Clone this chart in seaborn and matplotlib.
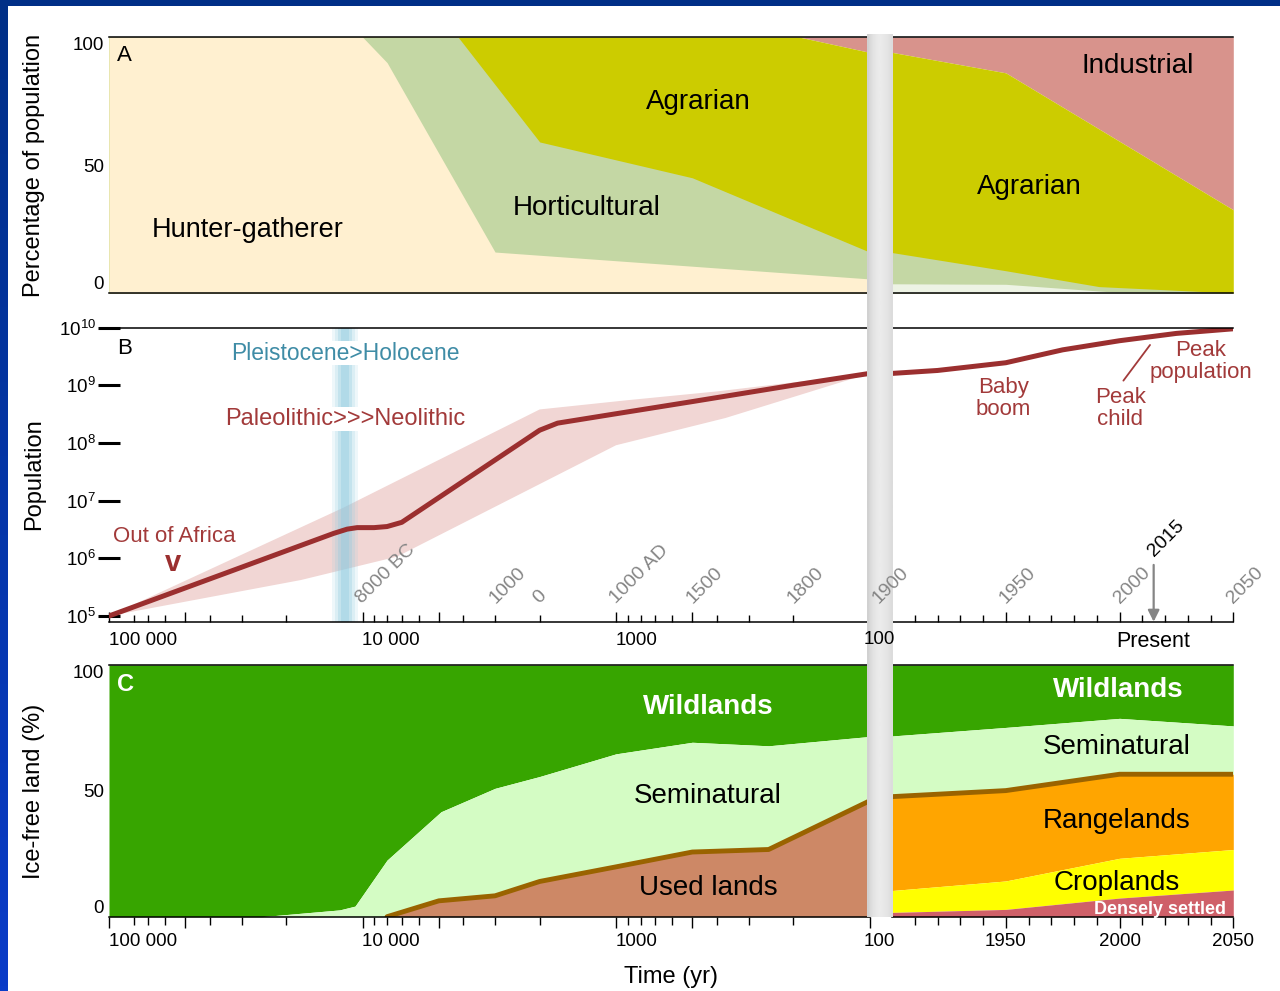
import numpy as np
import matplotlib
matplotlib.use("Agg")
import matplotlib.pyplot as plt
import matplotlib.transforms as mtransforms
from matplotlib.ticker import NullLocator, NullFormatter
from matplotlib.patches import Rectangle
import seaborn as sns

W, H = 1280, 991

# ---------------- Panel A: share of population by subsistence type ----------------
# cumulative upper edges (%) ; left half in years before present, right half in calendar years
hg_bp = [100000, 10000, 8000, 3000, 100]
hg_top = [100, 100, 90, 16, 5.5]
hort_bp = [100000, 4200, 2000, 500, 100]
hort_top = [100, 100, 59, 45, 16]
agr_bp = [100000, 190, 100]
agr_top = [100, 100, 94]

hg_yr = [1900, 1950, 1997, 2050]
hg_top_r = [3.6, 3.4, 0.4, 0]
hort_yr = [1900, 1950, 1991, 2050]
hort_top_r = [15.8, 8.7, 2.5, 0]
agr_yr = [1900, 1950, 2050]
agr_top_r = [94, 86, 32.5]

# ---------------- Panel B: world population ----------------
pop_bp = [100000, 13000, 11500, 10500, 9000, 8000, 7000, 2000, 1700, 1000, 500, 200, 100]
pop = [1.0e5, 2.7e6, 3.2e6, 3.4e6, 3.4e6, 3.55e6, 4.2e6, 1.66e8, 2.2e8, 3.2e8, 5.2e8, 1.0e9, 1.6e9]
pop_yr = [1900, 1920, 1950, 1975, 2000, 2025, 2050]
pop_r = [1.6e9, 1.8e9, 2.45e9, 4.1e9, 5.9e9, 7.9e9, 9.5e9]

band_hi_bp = [100000, 12000, 2000, 900, 400, 100]
band_hi = [1.0e5, 7.4e6, 3.8e8, 5.5e8, 7.8e8, 1.6e9]
band_lo_bp = [100000, 17500, 7300, 1000, 370, 100]
band_lo = [1.0e5, 4.2e5, 1.07e6, 9.1e7, 2.7e8, 1.6e9]

holocene_bp = 11700

cal_bp = [10000, 3000, 2000, 1000, 500, 200]
cal_bp_labels = ["8000 BC", "1000", "0", "1000 AD", "1500", "1800"]
cal_yr = [1950, 2000, 2050]
cal_yr_labels = ["1950", "2000", "2050"]
present_yr = 2015

# ---------------- Panel C: ice-free land use (cumulative upper edges, %) ----------------
semi_bp = [100000, 25000, 12300, 10700, 8000, 4900, 3000, 2000, 1000, 500, 250, 100]
semi_top = [0, 0, 2.7, 4.2, 22.5, 41.7, 51, 55.7, 64.7, 69.3, 67.9, 71.6]
used_bp = [8000, 5000, 3000, 2000, 1000, 500, 250, 100]
used_top = [0, 6.3, 8.3, 14, 19.8, 25.7, 26.7, 46]

years_c = [1900, 1950, 2000, 2050]
dense_top = [1.7, 2.9, 7.4, 10.6]
crop_top = [10.4, 14.2, 23.2, 26.7]
range_top = [47.7, 50.1, 56.6, 56.6]
semi_top_r = [71.8, 75.2, 78.8, 75.8]

# shared time axis ticks
bp_major = [1e5, 5e4, 1e4, 5e3, 1e3, 500, 100]
bp_major_labels = ["100 000", "", "10 000", "", "1000", "", ""]
bp_minor = [80000, 70000, 60000, 40000, 30000, 20000, 9000, 8000, 7000, 6000,
            4000, 3000, 2000, 900, 800, 700, 600, 400, 300, 200]
yr_major = [1950, 2000, 2050]
yr_minor = [y for y in range(1910, 2050, 10) if y not in yr_major]

# colours
C_HG, C_HG_R, C_HORT, C_AGR, C_IND = "#fff0d0", "#edf3e4", "#c4d7a4", "#cccc00", "#d8938c"
C_POP, C_BAND, C_RED, C_TEAL, C_STRIPE = "#9b2f2f", "#f1d6d4", "#a23a3a", "#3f8ca6", "#8fcbe0"
C_WILD, C_SEMI, C_USED, C_BROWN = "#37a500", "#d4fcc4", "#cd8866", "#9a6300"
C_RANGE, C_CROP, C_DENSE = "#ffa500", "#ffff00", "#cf6069"
C_CAL = "#858585"

FS_TICK, FS_LBL, FS_REG, FS_ANN, FS_CAL = 13.5, 17, 20, 16, 14

sns.set_theme(style="white")
plt.rcParams["font.family"] = ["Liberation Sans", "DejaVu Sans"]
plt.rcParams.update({
    "text.color": "black",
    "mathtext.fontset": "custom",
    "mathtext.rm": "Liberation Sans",
    "mathtext.it": "Liberation Sans:italic",
    "mathtext.bf": "Liberation Sans:bold",
})

fig = plt.figure(figsize=(W / 100, H / 100), dpi=100, facecolor="white")


def frac_rect(x0, y0, x1, y1):
    return [x0 / W, 1 - y1 / H, (x1 - x0) / W, (y1 - y0) / H]


def fxy(x, y):
    return x / W, 1 - y / H


LEFT = (109, 869.5)
RIGHT = (892, 1233.3)
ROWS = [(37, 293), (327.5, 621.7), (665, 916.7)]


def make_pair(y0, y1):
    axl = fig.add_axes(frac_rect(LEFT[0], y0, LEFT[1], y1))
    axr = fig.add_axes(frac_rect(RIGHT[0], y0, RIGHT[1], y1))
    axl.set_xscale("log")
    for ax in (axl, axr):
        ax.set_facecolor("white")
        ax.grid(False)
        for s in ("left", "right"):
            ax.spines[s].set_visible(False)
        for s in ("top", "bottom"):
            ax.spines[s].set_visible(True)
            ax.spines[s].set_color("black")
            ax.spines[s].set_linewidth(1.1)
            ax.spines[s].set_zorder(5)
    return axl, axr


def time_ticks(axl, axr, direction, major_len, minor_len, pad, right_labels):
    axl.set_xticks(bp_major, bp_major_labels)
    axl.set_xticks(bp_minor, minor=True)
    axl.xaxis.set_minor_formatter(NullFormatter())
    for lab in axl.get_xticklabels():
        lab.set_ha("left")
    axr.set_xticks(yr_major, right_labels)
    axr.set_xticks(yr_minor, minor=True)
    for ax in (axl, axr):
        ax.tick_params(axis="x", which="both", bottom=True, top=False, direction=direction,
                       color="black", width=1.0, labelsize=FS_TICK, labelcolor="black", pad=pad)
        ax.tick_params(axis="x", which="major", length=major_len)
        ax.tick_params(axis="x", which="minor", length=minor_len)


# ================= Panel A =================
axA, axAr = make_pair(*ROWS[0])
axA.fill_between(agr_bp, agr_top, 100, color=C_IND, lw=0)
axA.fill_between(agr_bp, 0, agr_top, color=C_AGR, lw=0)
axA.fill_between(hort_bp, 0, hort_top, color=C_HORT, lw=0)
axA.fill_between(hg_bp, 0, hg_top, color=C_HG, lw=0)
axAr.fill_between(agr_yr, agr_top_r, 100, color=C_IND, lw=0)
axAr.fill_between(agr_yr, 0, agr_top_r, color=C_AGR, lw=0)
axAr.fill_between(hort_yr, 0, hort_top_r, color=C_HORT, lw=0)
axAr.fill_between(hg_yr, 0, hg_top_r, color=C_HG_R, lw=0)
axA.set_xlim(1e5, 1e2)
axAr.set_xlim(1900, 2050)
for ax in (axA, axAr):
    ax.set_ylim(0, 100)
    ax.xaxis.set_major_locator(NullLocator())
    ax.xaxis.set_minor_locator(NullLocator())
axAr.set_yticks([])
axA.set_yticks([0, 50, 100], ["0", "50", "100"])
axA.tick_params(axis="y", left=True, length=0, pad=3.5, labelsize=FS_TICK, labelcolor="black")
ylabs = axA.get_yticklabels()
ylabs[0].set_va("bottom")
ylabs[-1].set_va("top")

axA.text(93000, 92.6, "A", fontsize=16, ha="left", va="center", color="black")
axA.text(28300, 24.6, "Hunter-gatherer", fontsize=FS_REG - 0.5, ha="center", va="center")
axA.text(1310, 33.2, "Horticultural", fontsize=FS_REG, ha="center", va="center")
axA.text(475, 74.6, "Agrarian", fontsize=FS_REG, ha="center", va="center")
axAr.text(2008, 88.7, "Industrial", fontsize=FS_REG, ha="center", va="center")
axAr.text(1960.5, 41.4, "Agrarian", fontsize=FS_REG, ha="center", va="center")

# ================= Panel B =================
axB, axBr = make_pair(*ROWS[1])
for ax in (axB, axBr):
    ax.set_yscale("log")

axB.fill(np.r_[band_hi_bp, band_lo_bp[::-1]], np.r_[band_hi, band_lo[::-1]],
         color=C_BAND, lw=0, zorder=1)
for w, a in [(26, 0.15), (20, 0.2), (14, 0.3), (8, 0.35)]:
    f = 10 ** (w / 2 / 253.5)
    axB.axvspan(holocene_bp / f, holocene_bp * f, color=C_STRIPE, alpha=a, lw=0, zorder=1.5)

sns.lineplot(x=pop_bp, y=pop, ax=axB, color=C_POP, lw=3.6, estimator=None,
             solid_joinstyle="round", solid_capstyle="round", zorder=3)
sns.lineplot(x=pop_yr, y=pop_r, ax=axBr, color=C_POP, lw=3.6, estimator=None,
             solid_joinstyle="round", solid_capstyle="round", zorder=3)

for ax in (axB, axBr):
    ax.set_ylim(10 ** 4.901, 1e10)
    ax.yaxis.set_minor_locator(NullLocator())
    ax.set_xlabel("")
    ax.set_ylabel("")
axB.set_xlim(1e5, 1e2)
axBr.set_xlim(1900, 2050)
axBr.yaxis.set_major_locator(NullLocator())
axB.set_yticks([1e5, 1e6, 1e7, 1e8, 1e9, 1e10],
               [r"$10^{5}$", r"$10^{6}$", r"$10^{7}$", r"$10^{8}$", r"$10^{9}$", r"$10^{10}$"])
axB.tick_params(axis="y", which="major", left=True, direction="inout", length=16, width=2.2,
                color="black", labelsize=FS_TICK, labelcolor="black", pad=1.5)
time_ticks(axB, axBr, "in", 7.5, 5, 7.5, ["", "", ""])

tB = mtransforms.blended_transform_factory(axB.transData, axB.transAxes)
tBr = mtransforms.blended_transform_factory(axBr.transData, axBr.transAxes)
for x, s in zip(cal_bp, cal_bp_labels):
    axB.text(x, 0.06, s, transform=tB, rotation=45, rotation_mode="anchor",
             ha="left", va="baseline", color=C_CAL, fontsize=FS_CAL)
for x, s in zip(cal_yr, cal_yr_labels):
    axBr.text(x, 0.06, s, transform=tBr, rotation=45, rotation_mode="anchor",
              ha="left", va="baseline", color=C_CAL, fontsize=FS_CAL)
axBr.text(present_yr, 0.221, str(present_yr), transform=tBr, rotation=45, rotation_mode="anchor",
          ha="left", va="baseline", color="black", fontsize=FS_CAL)
axBr.annotate("", xy=(present_yr, 0.0), xytext=(present_yr, 0.193), xycoords=tBr, textcoords=tBr,
              arrowprops=dict(arrowstyle="-|>", color=C_CAL, lw=1.6, mutation_scale=17,
                              shrinkA=0, shrinkB=0))
axBr.text(present_yr, -0.068, "Present", transform=tBr, ha="center", va="center",
          fontsize=15.5, color="black")

axB.text(93000, 4.4e9, "B", fontsize=16, ha="left", va="center", color="black")
bb = dict(facecolor="white", edgecolor="none", pad=0.5)
axB.text(holocene_bp, 3.6e9, "Pleistocene>Holocene", fontsize=16.5, color=C_TEAL,
         ha="center", va="center", bbox=bb, zorder=4)
axB.text(holocene_bp, 2.6e8, "Paleolithic>>>Neolithic", fontsize=17, color=C_RED,
         ha="center", va="center", bbox=bb, zorder=4)
axB.text(55400, 2.34e6, "Out of Africa", fontsize=FS_ANN, color=C_RED, ha="center", va="center")
axB.text(56000, 8.4e5, "v", fontsize=21, fontweight="heavy", color=C_POP, ha="center", va="center")
axBr.text(1949, 5.9e8, "Baby\nboom", fontsize=FS_ANN, color=C_RED, ha="center", va="center",
          linespacing=1.05)
axBr.text(2000.3, 3.95e8, "Peak\nchild", fontsize=FS_ANN, color=C_RED, ha="center", va="center",
          linespacing=1.05)
axBr.text(2035.7, 2.58e9, "Peak\npopulation", fontsize=FS_ANN, color=C_RED, ha="center",
          va="center", linespacing=1.05)
axBr.plot([2001.7, 2013.4], [1.2e9, 4.98e9], color=C_RED, lw=1.3)

# ================= Panel C =================
axC, axCr = make_pair(*ROWS[2])
axC.fill_between(semi_bp, semi_top, 100, color=C_WILD, lw=0)
axC.fill_between(semi_bp, 0, semi_top, color=C_SEMI, lw=0)
axC.fill_between(used_bp, 0, used_top, color=C_USED, lw=0)
sns.lineplot(x=used_bp, y=used_top, ax=axC, color=C_BROWN, lw=3.5, estimator=None, zorder=3)

axCr.fill_between(years_c, semi_top_r, 100, color=C_WILD, lw=0)
axCr.fill_between(years_c, range_top, semi_top_r, color=C_SEMI, lw=0)
axCr.fill_between(years_c, crop_top, range_top, color=C_RANGE, lw=0)
axCr.fill_between(years_c, dense_top, crop_top, color=C_CROP, lw=0)
axCr.fill_between(years_c, 0, dense_top, color=C_DENSE, lw=0)
sns.lineplot(x=years_c, y=range_top, ax=axCr, color=C_BROWN, lw=3.5, estimator=None, zorder=3)

for ax in (axC, axCr):
    ax.set_ylim(0, 100)
    ax.set_xlabel("")
    ax.set_ylabel("")
axC.set_xlim(1e5, 1e2)
axCr.set_xlim(1900, 2050)
axCr.set_yticks([])
axC.set_yticks([0, 50, 100], ["0", "50", "100"])
axC.tick_params(axis="y", left=True, length=0, pad=3.5, labelsize=FS_TICK, labelcolor="black")
ylabs = axC.get_yticklabels()
ylabs[0].set_va("bottom")
ylabs[-1].set_va("top")
time_ticks(axC, axCr, "out", 8, 6, 3.5, cal_yr_labels)

axC.text(93000, 92.1, "C", fontsize=17, fontweight="bold", color="white", ha="left", va="center")
axC.text(433, 83.4, "Wildlands", fontsize=FS_REG, fontweight="bold", color="white",
         ha="center", va="center")
axC.text(433, 48.0, "Seminatural", fontsize=FS_REG, ha="center", va="center")
axC.text(433, 11.4, "Used lands", fontsize=FS_REG, ha="center", va="center")
axCr.text(1999.3, 90.1, "Wildlands", fontsize=FS_REG, fontweight="bold", color="white",
          ha="center", va="center")
axCr.text(1998.8, 67.5, "Seminatural", fontsize=FS_REG, ha="center", va="center")
axCr.text(1998.8, 38.1, "Rangelands", fontsize=FS_REG, ha="center", va="center")
axCr.text(1998.8, 13.3, "Croplands", fontsize=FS_REG, ha="center", va="center")
axCr.text(2018, 2.9, "Densely settled", fontsize=13, fontweight="bold", color="white",
          ha="center", va="center", zorder=6)

# ================= break bar between the two time scales =================
bar = fig.add_axes(frac_rect(867, 34, 893, 917), zorder=2)
shade = np.array([0.82, 0.86, 0.89, 0.91, 0.92, 0.92, 0.91, 0.90, 0.88, 0.86])
bar.imshow(shade[np.newaxis, :], aspect="auto", cmap="gray", vmin=0, vmax=1,
           extent=[0, 1, 0, 1], interpolation="bilinear")
bar.axis("off")

# labels sitting on the break
fig.text(*fxy(879, 640), "100", fontsize=FS_TICK, ha="center", va="center", zorder=5)
fig.text(*fxy(879, 941), "100", fontsize=FS_TICK, ha="center", va="center", zorder=5)
fig.text(*fxy(879, 604), "1900", fontsize=FS_CAL, color=C_CAL, rotation=45,
         rotation_mode="anchor", ha="left", va="baseline", zorder=5)

# axis titles
fig.text(*fxy(34.5, 165), "Percentage of population", rotation=90, fontsize=FS_LBL,
         ha="center", va="center")
fig.text(*fxy(34.5, 474.6), "Population", rotation=90, fontsize=FS_LBL, ha="center", va="center")
fig.text(*fxy(34.5, 791), "Ice-free land (%)", rotation=90, fontsize=FS_LBL,
         ha="center", va="center")
fig.text(*fxy(670.8, 977), "Time (yr)", fontsize=FS_LBL, ha="center", va="center")

# blue frame
fig.add_artist(Rectangle((0, 1 - 5.7 / H), 1, 5.7 / H, transform=fig.transFigure,
                         color="#002f87", lw=0, zorder=10))
edge = fig.add_axes([0, 0, 7.3 / W, 1], zorder=10)
top_rgb = np.array([0x00, 0x2f, 0x87]) / 255
bot_rgb = np.array([0x0a, 0x3c, 0xc8]) / 255
edge.imshow(np.linspace(top_rgb, bot_rgb, 200)[:, None, :], aspect="auto", extent=[0, 1, 0, 1])
edge.axis("off")

fig.savefig("out.png", dpi=100, facecolor="white")
